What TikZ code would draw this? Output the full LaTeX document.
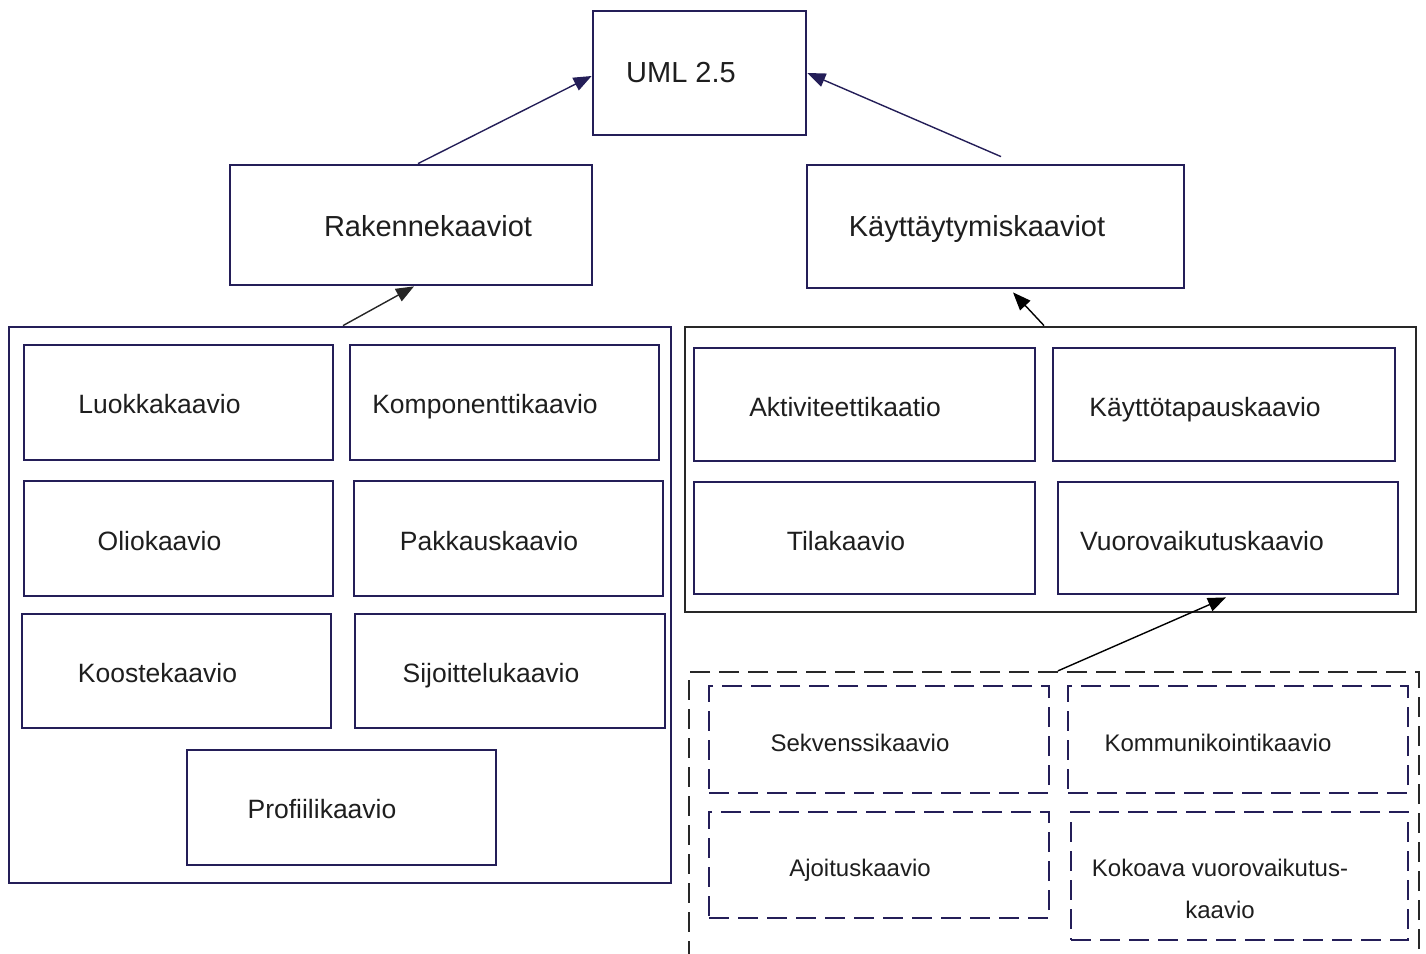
\documentclass[tikz,border=0pt]{standalone}
\usepackage{fontspec}
\setmainfont{Liberation Sans}
\usetikzlibrary{arrows.meta}
\definecolor{navy}{RGB}{36,30,88}
\definecolor{ink}{RGB}{30,30,30}
\definecolor{frame}{RGB}{40,40,40}

\begin{document}
\begin{tikzpicture}[x=1pt,y=-1pt,
  box/.style={draw=navy, line width=2.8pt, rectangle, inner sep=0pt},
  dbox/.style={box, line width=2.3pt, dash pattern=on 20pt off 9pt},
  txt/.style={text=ink, inner sep=0pt},
  big/.style={txt, font=\fontsize{29}{34}\selectfont, text height=27pt, text depth=6.1pt},
  lbl/.style={txt, font=\fontsize{26.5}{32}\selectfont, text height=24.6pt, text depth=5.6pt},
  small/.style={txt, font=\fontsize{24}{42}\selectfont, text height=22.3pt, text depth=5pt},
  twoline/.style={txt, font=\fontsize{24}{42}\selectfont, align=center},
  conn/.style={line width=1.4pt, -{Triangle[length=18pt,width=14pt]}},
]
\clip (0,0) rectangle (1426,953);

% top level
\node[box, minimum width=213pt, minimum height=124pt] (uml) at (699.5,73) {};
\node[big] (umlt) at (681,72) {UML 2.5};

\node[box, minimum width=362pt, minimum height=120pt] (rak) at (411,225) {};
\node[big] (rakt) at (428,226) {Rakennekaaviot};

\node[box, minimum width=377pt, minimum height=123pt] (kay) at (995.5,226.5) {};
\node[big] (kayt) at (977,226) {Käyttäytymiskaaviot};

% structure diagrams
\node[box, minimum width=662pt, minimum height=556pt] (lgrp) at (340,605) {};
\node[box, minimum width=309pt, minimum height=115pt] (luokka) at (178.5,402.5) {};
\node[lbl] at (159.5,404) {Luokkakaavio};
\node[box, minimum width=309pt, minimum height=115pt] (komp) at (504.5,402.5) {};
\node[lbl] at (485,404) {Komponenttikaavio};
\node[box, minimum width=309pt, minimum height=115pt] (olio) at (178.5,538.5) {};
\node[lbl] at (159.5,541) {Oliokaavio};
\node[box, minimum width=309pt, minimum height=115pt] (pakk) at (508.5,538.5) {};
\node[lbl] at (489,541) {Pakkauskaavio};
\node[box, minimum width=309pt, minimum height=114pt] (koos) at (176.5,671) {};
\node[lbl] at (157.5,673) {Koostekaavio};
\node[box, minimum width=310pt, minimum height=114pt] (sijo) at (510,671) {};
\node[lbl] at (491,673) {Sijoittelukaavio};
\node[box, minimum width=309pt, minimum height=115pt] (prof) at (341.5,807.5) {};
\node[lbl] at (322,809) {Profiilikaavio};

% behaviour diagrams
\node[box, draw=frame, minimum width=731pt, minimum height=285pt] (rgrp) at (1050.5,469.5) {};
\node[box, minimum width=341pt, minimum height=113pt] (akti) at (864.5,404.5) {};
\node[lbl] at (845,407) {Aktiviteettikaatio};
\node[box, minimum width=342pt, minimum height=113pt] (ktapa) at (1224,404.5) {};
\node[lbl] at (1205,407) {Käyttötapauskaavio};
\node[box, minimum width=341pt, minimum height=112pt] (tila) at (864.5,538) {};
\node[lbl] at (846,541) {Tilakaavio};
\node[box, minimum width=340pt, minimum height=112pt] (vuoro) at (1228,538) {};
\node[lbl] at (1202,541) {Vuorovaikutuskaavio};

% interaction diagrams
\node[dbox, draw=frame, minimum width=730pt, minimum height=330pt] (dgrp) at (1054,837) {};
\node[dbox, minimum width=340pt, minimum height=107pt] (sekv) at (879,739.5) {};
\node[small] at (860,743) {Sekvenssikaavio};
\node[dbox, minimum width=340pt, minimum height=107pt] (komm) at (1238,739.5) {};
\node[small] at (1218,743) {Kommunikointikaavio};
\node[dbox, minimum width=340pt, minimum height=106pt] (ajoi) at (879,865) {};
\node[small] at (860,868) {Ajoituskaavio};
\node[dbox, minimum width=337pt, minimum height=128pt] (koko) at (1239.5,876) {};
\node[twoline] at (1220,889) {Kokoava vuorovaikutus-\\kaavio};

% connectors
\draw[conn, navy] ([xshift=7pt]rak.north) -- ([yshift=-3pt]uml.west);
\draw[conn, navy] ([xshift=5.5pt,yshift=7pt]kay.north) -- (uml.east);
\draw[conn, black!85] ([xshift=3pt]lgrp.north) -- ([xshift=3pt]rak.south);
\draw[conn, black] ([xshift=-6.5pt]rgrp.north) -- ([xshift=17.5pt,yshift=-3pt]kay.south);
\draw[conn, black] ([xshift=4pt]dgrp.north) -- ([xshift=-2pt,yshift=-2pt]vuoro.south);
\end{tikzpicture}
\end{document}
